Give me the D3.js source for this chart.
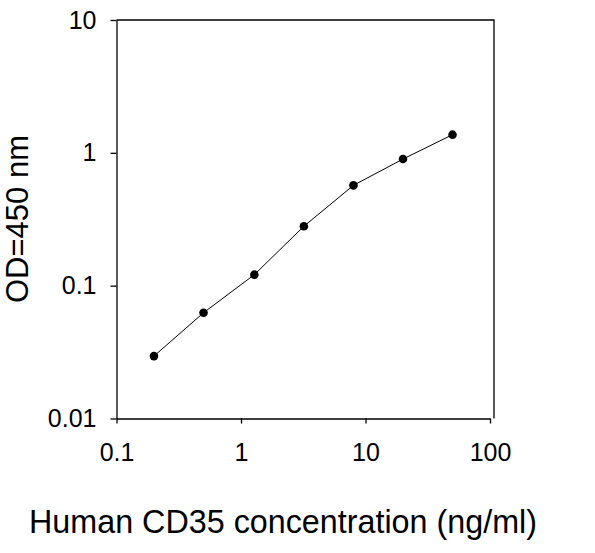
<!DOCTYPE html>
<html>
<head>
<meta charset="utf-8">
<script src="https://cdn.jsdelivr.net/npm/d3@7"></script>
<style>
  body { margin: 0; background: #fff; }
  text { font-family: "Liberation Sans", Arial, sans-serif; fill: #000; }
</style>
</head>
<body>
<div id="chart"></div>
<script>
// concentration (ng/ml) and OD readings
var concentration = [0.2, 0.5, 1.28, 3.2, 8, 20, 50];
var od = [0.0295, 0.0625, 0.121, 0.28, 0.569, 0.898, 1.37];
var xTicks = [0.1, 1, 10, 100];
var yTicks = [0.01, 0.1, 1, 10];
var xTitle = "Human CD35 concentration (ng/ml)";
var yTitle = "OD=450 nm";

var width = 595, height = 553;
var plotLeft = 116.5, plotRight = 490, plotTop = 20, plotBottom = 418.5;
var frameRight = 494;

var svg = d3.select("#chart").append("svg")
  .attr("width", width)
  .attr("height", height);

var x = d3.scaleLog().domain([0.1, 100]).range([plotLeft, plotRight]);
var y = d3.scaleLog().domain([0.01, 10]).range([plotBottom, plotTop]);

// frame: top and right lines (right one sits a little past the 100 tick)
svg.append("path")
  .attr("d", "M" + plotLeft + "," + plotTop + "H" + frameRight + "V" + plotBottom)
  .attr("fill", "none")
  .attr("stroke", "#000")
  .attr("stroke-width", 1.3);

var xAxis = d3.axisBottom(x).tickValues(xTicks)
  .tickFormat(function(d) { return String(d); })
  .tickSizeOuter(0).tickSizeInner(5).tickPadding(20);
var gx = svg.append("g")
  .attr("transform", "translate(0," + plotBottom + ")")
  .call(xAxis);

var yAxis = d3.axisLeft(y).tickValues(yTicks)
  .tickFormat(function(d) { return String(d); })
  .tickSizeOuter(0).tickSizeInner(6).tickPadding(14);
var gy = svg.append("g")
  .attr("transform", "translate(" + plotLeft + ",0)")
  .call(yAxis);

[gx, gy].forEach(function(g) {
  g.attr("font-size", 25).attr("font-family", "Liberation Sans, Arial, sans-serif");
  g.select(".domain").attr("stroke-width", 1.3);
  g.selectAll(".tick line").attr("stroke-width", 1.3);
});

var pts = concentration.map(function(c, i) { return [c, od[i]]; });

var line = d3.line()
  .x(function(d) { return x(d[0]); })
  .y(function(d) { return y(d[1]); });

svg.append("path")
  .datum(pts)
  .attr("d", line)
  .attr("fill", "none")
  .attr("stroke", "#000")
  .attr("stroke-width", 1);

svg.selectAll("circle.dot")
  .data(pts)
  .enter().append("circle")
  .attr("class", "dot")
  .attr("cx", function(d) { return x(d[0]); })
  .attr("cy", function(d) { return y(d[1]); })
  .attr("r", 4.3)
  .attr("fill", "#000");

svg.append("text")
  .attr("x", 283)
  .attr("y", 533)
  .attr("text-anchor", "middle")
  .attr("font-size", 32.3)
  .text(xTitle);

svg.append("text")
  .attr("transform", "translate(28,219) rotate(-90)")
  .attr("text-anchor", "middle")
  .attr("font-size", 31)
  .text(yTitle);
</script>
</body>
</html>
